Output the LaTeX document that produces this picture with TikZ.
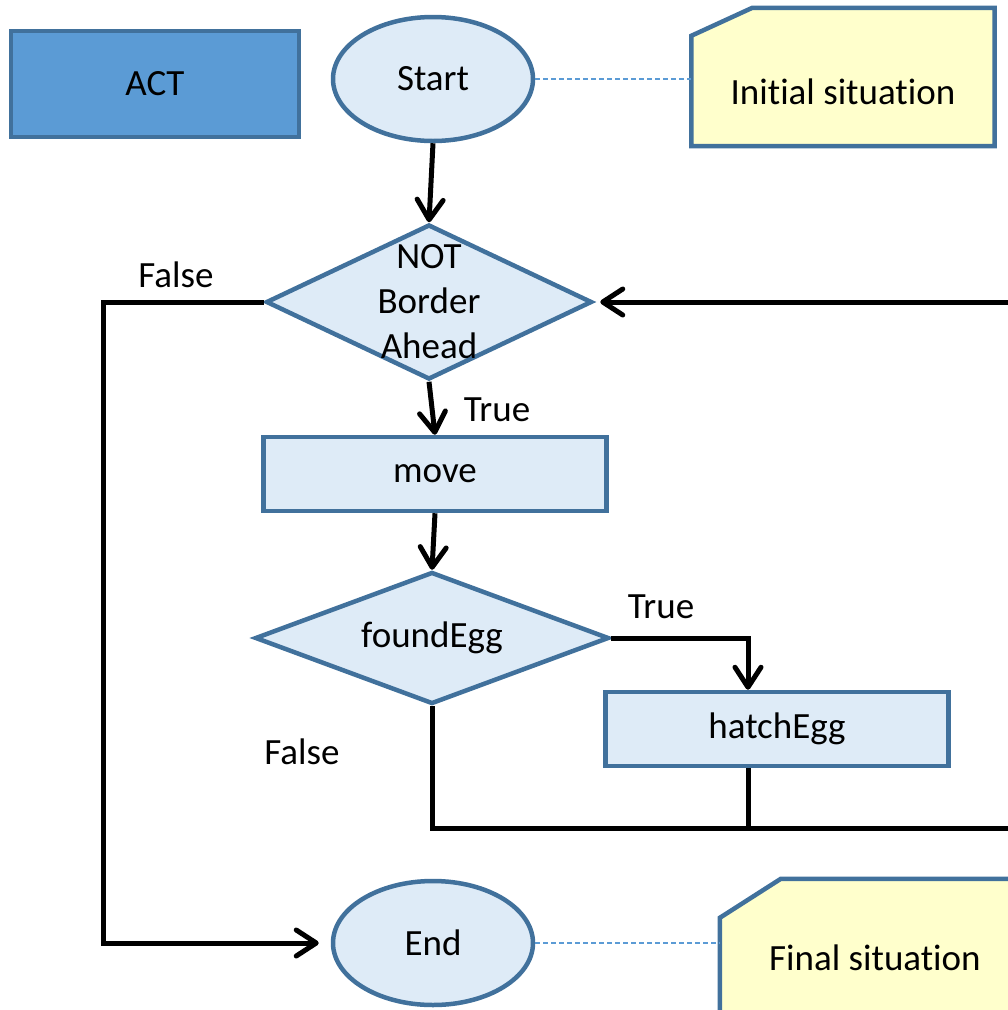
\documentclass[tikz,border=0pt]{standalone}
\usepackage{fontspec}
\setmainfont{Carlito}[Ligatures=NoCommon]
\usetikzlibrary{shapes.geometric,arrows.meta}
\definecolor{actblue}{HTML}{5B9BD5}
\definecolor{edgeblue}{HTML}{41719C}
\definecolor{paleblue}{HTML}{DEEBF7}
\definecolor{noteyellow}{HTML}{FFFFCC}
\begin{document}
\begin{tikzpicture}[x=1pt,y=-1pt,font=\fontsize{37}{45}\selectfont,
    box/.style={draw=edgeblue,line width=4.5pt,fill=paleblue,inner sep=0pt},
    actbox/.style={box,fill=actblue,minimum width=288pt,minimum height=106pt},
    terminal/.style={box,ellipse,minimum width=200pt,minimum height=124pt},
    process/.style={box,rectangle,minimum width=343pt,minimum height=74pt},
    decision/.style={box,diamond},
    notebox/.style={rectangle,inner sep=0pt,minimum width=303pt,minimum height=138pt},
    noteedge/.style={draw=edgeblue,line width=4.5pt,fill=noteyellow},
    wire/.style={line width=5pt},
    flow/.style={wire,-{Straight Barb[length=20pt,width=26pt,round]}},
    link/.style={draw=actblue,line width=1.5pt,dash pattern=on 5pt off 3pt}]
  \useasboundingbox (0,0) rectangle (1008,1010);
  \clip (0,0) rectangle (1008,1010);

  \node[actbox] (act) at (155,84) {ACT};
  \node[terminal] (start) at (433,79) {Start};
  \node[notebox] (initial) at (843,77) {};
  \draw[noteedge] ([yshift=-28pt]initial.north west) -- ([xshift=61pt]initial.north west)
    -- (initial.north east) -- (initial.south east) -- (initial.south west) -- cycle;
  \node (initialtext) at ([yshift=-15pt]initial.center) {Initial situation};
  \node[decision,minimum width=326pt,minimum height=155pt,
    label={[align=center]center:NOT\\Border\\Ahead}] (notborder) at (429,302) {};
  \node[process] (move) at (435,474) {move};
  \node[decision,aspect=2.68,minimum width=354pt,minimum height=132pt] (foundegg) at (432,638) {foundEgg};
  \node[process] (hatchegg) at (777,729) {hatchEgg};
  \node[terminal] (end) at (433,943) {End};
  \node[notebox,minimum width=310pt] (final) at (875,948) {};
  \draw[noteedge] ([yshift=-39pt]final.north west) -- ([xshift=61pt]final.north west)
    -- (final.north east) -- (final.south east) -- (final.south west) -- cycle;
  \node (finaltext) at ([yshift=-10pt]final.center) {Final situation};

  \node (falseleft) at (176,275) {False};
  \node (trueleft) at (497,410) {True};
  \node (trueright) at (661,607) {True};
  \node (falsedown) at (302,752) {False};

  \coordinate (truecorner) at (748,638);
  \coordinate (loopcorner) at (1016,828);

  \draw[link] (start.east) -- (start.east -| initial.west);
  \draw[link] (end.east) -- (end.east -| final.west);
  \draw[flow] (start.south) -- (notborder.north);
  \draw[flow] (notborder.south) -- (move.north);
  \draw[flow] (move.south) -- (foundegg.north);
  \draw[flow] (foundegg.east) -- (truecorner) -- (truecorner |- hatchegg.north);
  \draw[flow,shorten >=6pt] (foundegg.south) |- (loopcorner) |- (notborder.east);
  \draw[wire] (truecorner |- hatchegg.south) -- (truecorner |- loopcorner);
  \draw[flow,shorten >=12pt] (notborder.west) -- ++(-160,0) |- (end.west);
\end{tikzpicture}
\end{document}
